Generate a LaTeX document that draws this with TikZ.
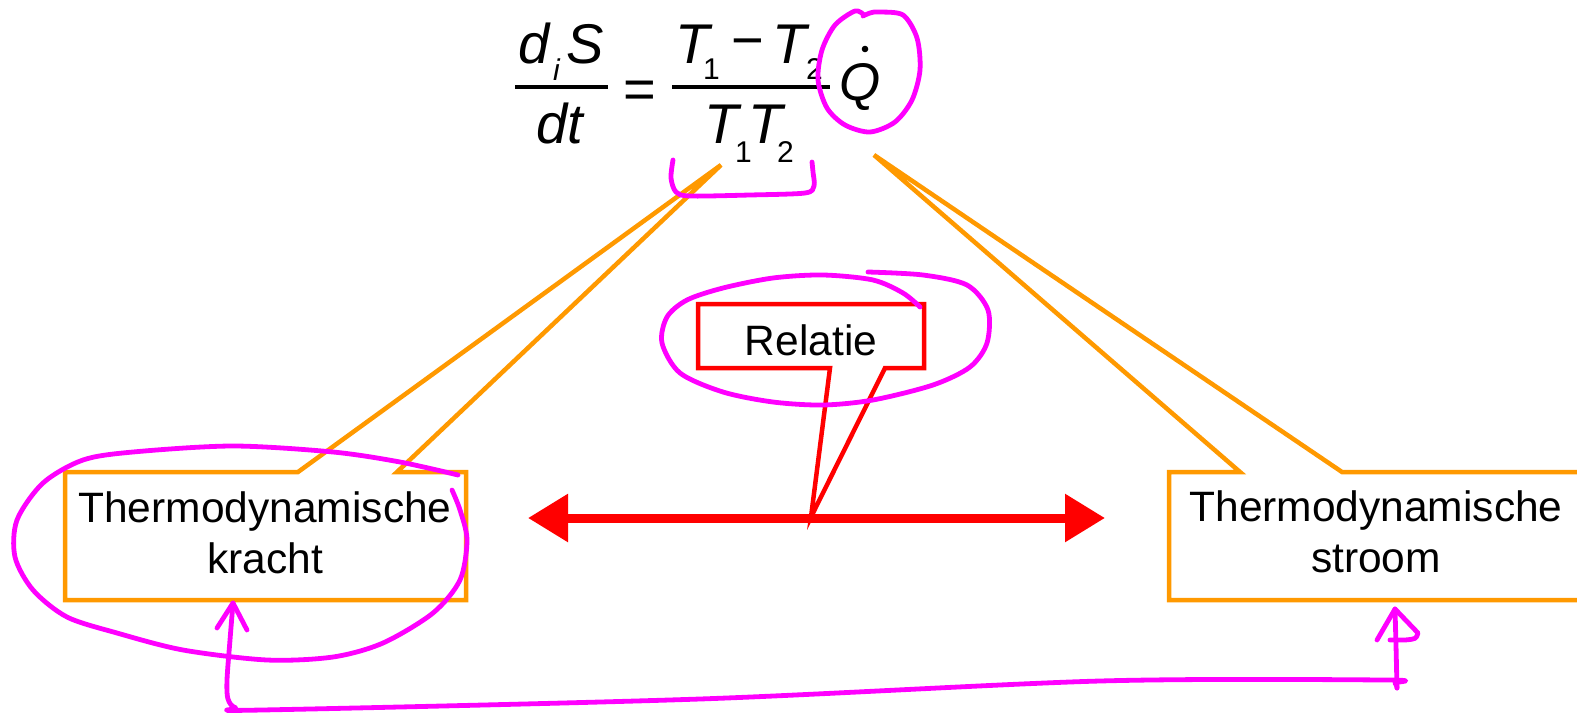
\documentclass[tikz,border=0pt]{standalone}
\usepackage{fontspec}
\setmainfont{Liberation Sans}
\usetikzlibrary{arrows.meta}
\definecolor{cOrange}{RGB}{255,153,0}
\definecolor{cRed}{RGB}{255,0,0}
\definecolor{cPen}{RGB}{255,0,255}
\begin{document}
\begin{tikzpicture}[x=1pt,y=-1pt,
  fm/.style={font=\fontsize{56}{60}\selectfont\itshape, inner sep=0pt, anchor=base west},
  fmq/.style={font=\fontsize{53}{60}\selectfont\itshape, inner sep=0pt, anchor=base west},
  subs/.style={font=\fontsize{30}{32}\selectfont, inner sep=0pt, anchor=base west},
  subsit/.style={font=\fontsize{30}{32}\selectfont\itshape, inner sep=0pt, anchor=base west},
  opsym/.style={font=\fontsize{56}{60}\selectfont, inner sep=0pt, anchor=base},
  fracbar/.style={line width=4pt},
  lbl/.style={font=\fontsize{42.5}{51}\selectfont, align=center, inner sep=0pt},
  obox/.style={draw=cOrange, line width=4.5pt},
  rbox/.style={draw=cRed, line width=4.5pt},
  dbl/.style={draw=cRed, line width=9pt,
    {Triangle[length=40pt,width=46pt]}-{Triangle[length=40pt,width=46pt]}},
  ink/.style={draw=cPen, line width=4.8pt, line cap=round, line join=round},
]
\useasboundingbox (0,0) rectangle (1577,715);

% ---------- formula ----------
\node[fm] (d) at (518,63) {d};
\node[subsit] (i) at (553,80) {i};
\node[fm] (S) at (566,63) {S};
\draw[fracbar] (515,87) -- (608,87);
\node[fm] (dt) at (536,143) {dt};
\node[opsym] (eq) at (640,108) {=};
\draw[fracbar] (672,87) -- (830,87);
\node[fm] (T1) at (675,63) {T};
\node[subs] (n1) at (703,79) {1};
\node[opsym] (minus) at (748,59) {−};
\node[fm] (T2) at (772,63) {T};
\node[subs] (n2) at (806,79) {2};
\node[fm] (T3) at (704,143) {T};
\node[subs] (n3) at (735,162) {1};
\node[fm] (T4) at (748,143) {T};
\node[subs] (n4) at (777,162) {2};
\node[fmq] (Q) at (839,100) {Q};
\fill (865,49) circle (3.3);

% ---------- callout boxes ----------
\coordinate (tipT) at (721,165);
\coordinate (tipQ) at (874,155);
\coordinate (tipR) at (811,517);
\draw[obox] (65,472) -- (298,472) -- (tipT) -- (397,472) -- (466,472) -- (466,600) -- (65,600) -- cycle;
\draw[obox] (1620,472) -- (1342,472) -- (tipQ) -- (1240,472) -- (1169,472) -- (1169,600) -- (1620,600);
\draw[rbox] (698,304) -- (924,304) -- (924,368) -- (885,368) -- (tipR) -- (830,368) -- (698,368) -- cycle;

\node[lbl] (kr) at (265,533) {Thermodynamische\\kracht};
\node[lbl] (st) at (1376,532) {Thermodynamische\\stroom};
\node[lbl, anchor=base] (rel) at (811,355) {Relatie};

% ---------- double arrow ----------
\coordinate (la) at (528,518);
\coordinate (ra) at (1105,518);
\draw[dbl] (la) -- (ra);

% ---------- pen annotations ----------
\draw[ink] plot[smooth] coordinates {(863,16) (870,13) (878,12) (903,15) (917,38) (920,70) (912,100) (895,122) (870,132) (845,125) (827,108) (818,80) (822,50) (835,25) (855,11) (864,15)};
\draw[ink] plot[smooth] coordinates {(673,160) (671,178) (676,192) (690,196) (750,195) (805,193) (814,186) (813,172) (812,162)};
\draw[ink] plot[smooth] coordinates {(868,272) (923,275) (967,285) (988,310) (987,343) (970,367) (933,385) (873,400) (823,405) (773,402) (723,392) (680,373) (662,343) (667,317) (687,300) (723,288) (773,278) (823,275) (873,280) (903,293) (920,307)};
\draw[ink] plot[smooth] coordinates {(458,475) (400,462) (333,452) (233,446) (133,452) (83,460) (43,483) (17,520) (15,557) (33,590) (67,617) (117,633) (183,650) (267,660) (333,657) (383,643) (433,613) (460,580) (467,540) (460,510) (452,490)};

\coordinate (kb) at (233,603);
\coordinate (sb) at (1395,609);
\draw[ink] (217,628) -- (kb) -- (247,630);
\draw[ink] plot[smooth] coordinates {(kb) (230,640) (227,680) (228,699) (236,708) (262,710) (700,699) (1100,681) (1385,680) (1395,683) (1397,688)};
\draw[ink] (1397,688) -- (1396,645) -- (sb);
\draw[ink] (1377,640) -- (sb) -- (1418,633) .. controls (1416,639) .. (1405,640) -- (1390,640);
\end{tikzpicture}
\end{document}
